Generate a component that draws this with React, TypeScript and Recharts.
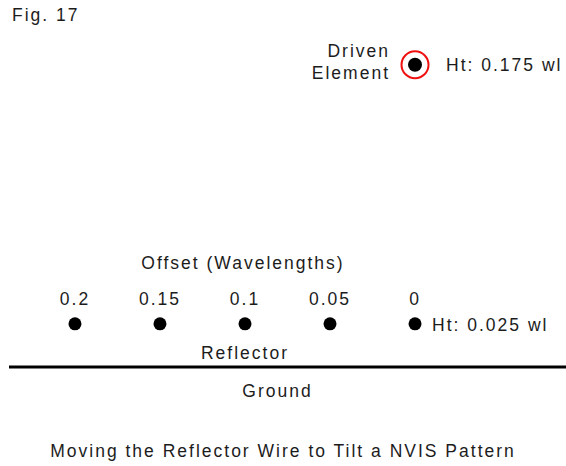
import { ScatterChart, Scatter, XAxis, YAxis, ReferenceLine } from "recharts"

const offsets = [0.2, 0.15, 0.1, 0.05, 0]
const offsetLabels = ["0.2", "0.15", "0.1", "0.05", "0"]
const reflectorHeight = 0.025
const drivenOffset = 0
const drivenHeight = 0.175

const reflectorData = offsets.map((x, i) => ({ x, y: reflectorHeight, label: offsetLabels[i] }))
const drivenData = [{ x: drivenOffset, y: drivenHeight }]

const FONT = "'Liberation Sans', Arial, sans-serif"
const TEXT = "#1c1c1c"
const txt = { fontFamily: FONT, fontSize: 17.5, fill: TEXT, letterSpacing: 2 }

function ReflectorDot(props: any) {
  const { cx, cy, payload } = props
  return (
    <g>
      <circle cx={cx} cy={cy} r={6.5} fill="#000" />
      <text x={cx} y={cy - 25} textAnchor="middle" dominantBaseline="central" {...txt}>
        {payload.label}
      </text>
      {payload.x === 0.1 && (
        <>
          <text x={cx - 2} y={cy - 61} textAnchor="middle" dominantBaseline="central" {...txt}>
            Offset (Wavelengths)
          </text>
          <text x={cx} y={cy + 29} textAnchor="middle" dominantBaseline="central" {...txt}>
            Reflector
          </text>
        </>
      )}
      {payload.x === 0 && (
        <text x={cx + 17} y={cy + 1} dominantBaseline="central" {...txt}>
          Ht: {reflectorHeight} wl
        </text>
      )}
    </g>
  )
}

function DrivenDot(props: any) {
  const { cx, cy } = props
  return (
    <g>
      <circle cx={cx} cy={cy} r={13.5} fill="none" stroke="#f01010" strokeWidth={2} />
      <circle cx={cx} cy={cy} r={7} fill="#000" />
      <text x={cx - 25} y={cy - 14} textAnchor="end" dominantBaseline="central" {...txt}>
        Driven
      </text>
      <text x={cx - 25} y={cy + 8} textAnchor="end" dominantBaseline="central" {...txt}>
        Element
      </text>
      <text x={cx + 31} y={cy} dominantBaseline="central" {...txt}>
        Ht: {drivenHeight} wl
      </text>
    </g>
  )
}

function GroundLabel(props: any) {
  const { viewBox } = props
  return (
    <text x={viewBox.x + viewBox.width / 2 - 10} y={viewBox.y + 24} textAnchor="middle" dominantBaseline="central" {...txt}>
      Ground
    </text>
  )
}

export default function App() {
  return (
    <div style={{ position: "absolute", left: 0, top: 0, width: 566, height: 466, background: "#fff" }}>
      <ScatterChart width={566} height={466} margin={{ top: 0, right: 0, bottom: 0, left: 9 }}>
        <XAxis type="number" dataKey="x" domain={[-0.0888, 0.2388]} reversed hide allowDataOverflow />
        <YAxis type="number" dataKey="y" domain={[-0.0573, 0.2125]} hide allowDataOverflow />
        <ReferenceLine y={0} stroke="#000" strokeWidth={3} label={<GroundLabel />} />
        <Scatter data={reflectorData} shape={ReflectorDot} isAnimationActive={false} />
        <Scatter data={drivenData} shape={DrivenDot} isAnimationActive={false} />
      </ScatterChart>
      <div style={{ position: "absolute", left: 12, top: 5, fontFamily: FONT, fontSize: 17.5, color: TEXT, letterSpacing: 2 }}>
        Fig. 17
      </div>
      <div
        style={{
          position: "absolute",
          left: 0,
          width: 566,
          top: 441,
          textAlign: "center",
          fontFamily: FONT,
          fontSize: 17.5,
          color: TEXT,
          letterSpacing: 2,
        }}
      >
        Moving the Reflector Wire to Tilt a NVIS Pattern
      </div>
    </div>
  )
}
